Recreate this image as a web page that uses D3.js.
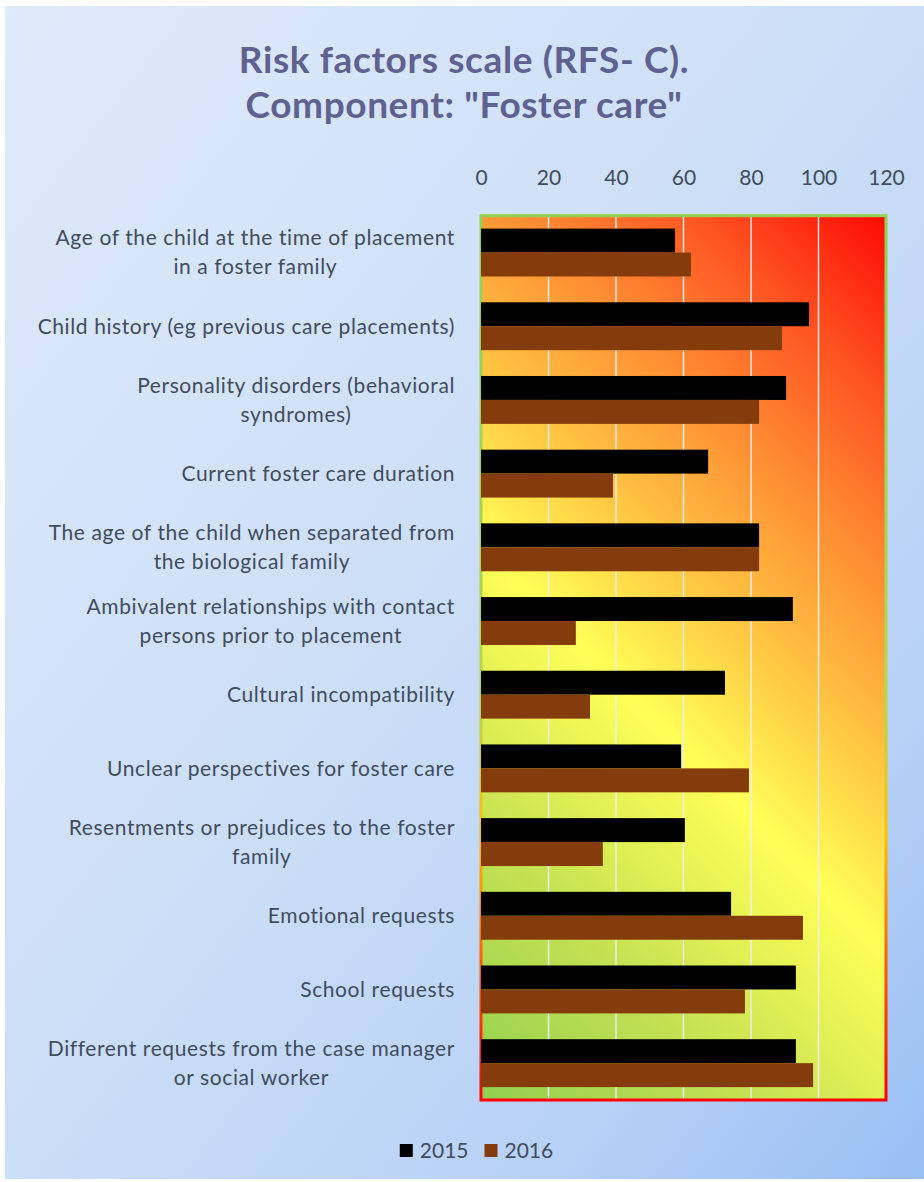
<!DOCTYPE html>
<html>
<head>
<meta charset="utf-8">
<script src="https://cdn.jsdelivr.net/npm/d3@7"></script>
<style>
  html, body { margin: 0; padding: 0; background: #ffffff; }
  svg { display: block; }
  text { font-family: Lato, "Open Sans", sans-serif; }
</style>
</head>
<body>
<svg id="chart" width="924" height="1182"></svg>
<script>
// Risk factor items (line breaks mark where a label wraps)
const categories = [
  "Age of the child at the time of placement\nin a foster family",
  "Child history (eg previous care placements)",
  "Personality disorders (behavioral\nsyndromes)",
  "Current foster care duration",
  "The age of the child when separated from\nthe biological family",
  "Ambivalent relationships with contact\npersons prior to placement",
  "Cultural incompatibility",
  "Unclear perspectives for foster care",
  "Resentments or prejudices to the foster\nfamily",
  "Emotional requests",
  "School requests",
  "Different requests from the case manager\nor social worker"
];
const seriesNames = ["2015", "2016"];
const values2015 = [57.5, 97.2, 90.4, 67.3, 82.4, 92.4, 72.3, 59.3, 60.4, 74.1, 93.3, 93.3];
const values2016 = [62.2, 89.2, 82.4, 39.1, 82.4, 28.1, 32.3, 79.4, 36.1, 95.4, 78.2, 98.4];
const tickValues = [0, 20, 40, 60, 80, 100, 120];
const titleLines = ["Risk factors scale (RFS- C).", "Component: \"Foster care\""];

const seriesColors = { "2015": "#000000", "2016": "#843c0c" };
const textColor = "#414c5e";

const W = 924, H = 1182;
const plot = { left: 481, right: 886, top: 215.7, bottom: 1100 };

const svg = d3.select("#chart");
const defs = svg.append("defs");

// Page background gradient (light blue, deepening to the lower right)
const bg = defs.append("linearGradient").attr("id", "bgGrad")
  .attr("x1", "0").attr("y1", "0").attr("x2", "1").attr("y2", "1");
[[0, "#dfeafa"], [0.5, "#cbdef7"], [0.8, "#b6d0f6"], [1, "#98bff4"]]
  .forEach(([o, c]) => bg.append("stop").attr("offset", o).attr("stop-color", c));

svg.append("rect").attr("x", 5).attr("y", 6).attr("width", W - 5).attr("height", H - 9)
  .attr("fill", "url(#bgGrad)");

// Plot-area fill: green lower-left, yellow band, orange to red upper-right
const pw = plot.right - plot.left, ph = plot.bottom - plot.top;
const span = (pw + ph) / 2;
const pf = defs.append("linearGradient").attr("id", "plotGrad")
  .attr("gradientUnits", "userSpaceOnUse")
  .attr("x1", plot.left).attr("y1", plot.bottom)
  .attr("x2", plot.left + span).attr("y2", plot.bottom - span);
[[0, "#92d050"], [0.2, "#c2e052"], [0.43, "#ffff57"], [0.55, "#ffce45"],
 [0.7, "#ff9535"], [0.85, "#ff5522"], [1, "#ff0a05"]]
  .forEach(([o, c]) => pf.append("stop").attr("offset", o).attr("stop-color", c));

// Plot-area border: green at top running to red at the bottom
const pb = defs.append("linearGradient").attr("id", "borderGrad")
  .attr("gradientUnits", "userSpaceOnUse")
  .attr("x1", 0).attr("y1", plot.top).attr("x2", 0).attr("y2", plot.bottom);
[[0, "#92d050"], [0.55, "#b8d84a"], [0.7, "#ffc000"], [0.85, "#ff5a00"], [1, "#ff0000"]]
  .forEach(([o, c]) => pb.append("stop").attr("offset", o).attr("stop-color", c));

// Scales
const x = d3.scaleLinear().domain([0, 120]).range([plot.left, plot.right]);
const y = d3.scaleBand().domain(categories).range([plot.top, plot.bottom])
  .paddingInner(0.35).paddingOuter(0.175);
const ySub = d3.scaleBand().domain(seriesNames).range([0, y.bandwidth()]);

// Plot area
svg.append("rect")
  .attr("x", plot.left).attr("y", plot.top).attr("width", pw).attr("height", ph)
  .attr("fill", "url(#plotGrad)");

// Vertical gridlines
svg.append("g").selectAll("line").data(tickValues.slice(1, -1)).join("line")
  .attr("x1", d => x(d)).attr("x2", d => x(d))
  .attr("y1", plot.top).attr("y2", plot.bottom)
  .attr("stroke", "#eeeeee").attr("stroke-width", 1.4);

svg.append("rect")
  .attr("x", plot.left).attr("y", plot.top).attr("width", pw).attr("height", ph)
  .attr("fill", "none").attr("stroke", "url(#borderGrad)").attr("stroke-width", 3);

// Bars
const rows = categories.map((c, i) => ({ cat: c, v: { "2015": values2015[i], "2016": values2016[i] } }));
const rowG = svg.append("g").selectAll("g").data(rows).join("g")
  .attr("transform", d => `translate(0,${y(d.cat)})`);
rowG.selectAll("rect").data(d => seriesNames.map(s => ({ s, v: d.v[s] }))).join("rect")
  .attr("x", x(0))
  .attr("y", d => ySub(d.s))
  .attr("width", d => x(d.v) - x(0))
  .attr("height", ySub.bandwidth())
  .attr("fill", d => seriesColors[d.s]);

// Top value axis
const axis = svg.append("g").attr("transform", `translate(0,${plot.top})`)
  .call(d3.axisTop(x).tickValues(tickValues).tickSize(0).tickPadding(31));
axis.select(".domain").remove();
axis.selectAll("text")
  .attr("font-family", "Lato, sans-serif").attr("font-size", 21).attr("fill", textColor);

// Category labels: block right-aligned, lines centred within the block
const labelRight = 455, lineH = 29;
const labG = svg.append("g").attr("font-size", 21).attr("letter-spacing", 0.6).attr("fill", textColor);
categories.forEach(cat => {
  const lines = cat.split("\n");
  const cy = y(cat) + y.bandwidth() / 2;
  const g = labG.append("g");
  const texts = lines.map((ln, i) => g.append("text")
    .attr("y", cy + (i - (lines.length - 1) / 2) * lineH)
    .attr("dy", "0.35em")
    .attr("text-anchor", "middle")
    .text(ln));
  const maxW = d3.max(texts, t => t.node().getComputedTextLength());
  texts.forEach(t => t.attr("x", labelRight - maxW / 2));
});

// Title
svg.append("g").selectAll("text").data(titleLines).join("text")
  .attr("x", 464).attr("y", (d, i) => 73 + i * 45)
  .attr("text-anchor", "middle")
  .attr("font-size", 37).attr("font-weight", "bold").attr("letter-spacing", 0.6)
  .attr("fill", "#5f6190")
  .text(d => d);

// Legend
const legend = svg.append("g").attr("font-size", 21).attr("fill", textColor);
let lx = 0;
seriesNames.forEach(s => {
  const g = legend.append("g");
  g.append("rect").attr("x", 0).attr("y", -7).attr("width", 13).attr("height", 13)
    .attr("fill", seriesColors[s]);
  const t = g.append("text").attr("x", 20).attr("dy", "0.35em").text(s);
  const w = 20 + t.node().getComputedTextLength();
  g.attr("transform", `translate(${lx},0)`);
  lx += w + 16;
});
const legendW = lx - 16;
legend.attr("transform", `translate(${476.5 - legendW / 2},1151)`);
</script>
</body>
</html>
